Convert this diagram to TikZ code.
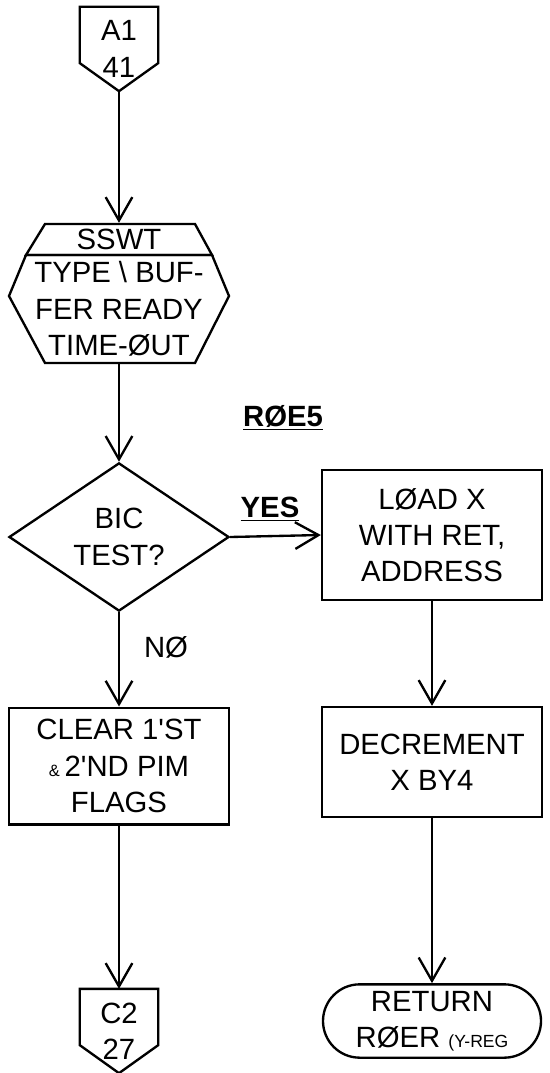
\documentclass[tikz,border=0pt]{standalone}
\usepackage{fontspec}
\usetikzlibrary{calc, positioning, shapes.geometric, shapes.misc, arrows.meta}
\newfontfamily\handfont{Liberation Sans}
\newcommand{\hand}{\handfont\fontsize{25}{31}\selectfont}

\begin{document}
\begin{tikzpicture}[
  x=0.03cm, y=-0.03cm,
  line width=2pt,
  flow/.style={draw, -{Straight Barb[length=7mm, width=8mm]}},
  lbl/.style={font=\hand, inner sep=1pt},
  proc/.style={draw, minimum width=6.6cm, align=center, font=\hand, inner sep=2pt},
  conn/.style={minimum width=2.28cm, minimum height=2.46cm, align=center,
               font=\hand, inner sep=0pt},
  decide/.style={draw, diamond, minimum width=6.6cm, minimum height=3.96cm,
                 align=center, font=\hand, inner sep=0pt},
  term/.style={draw, rounded rectangle, minimum width=6.54cm, minimum height=2.2cm,
               align=center, font=\hand, inner sep=0pt},
]
\useasboundingbox (0,0) rectangle (549,1073);

% left column
\node[conn] (a1) at (119,49) {A1\\41};
\draw (a1.north west) -- (a1.north east) -- ($(a1.south east)+(0,-28)$)
      -- (a1.south) -- ($(a1.south west)+(0,-28)$) -- cycle;

\node[lbl, minimum height=0.93cm] (sswthd) at (119,239.5) {SSWT};
\node[lbl, align=center, minimum height=3.24cm] (sswt) at (119,309) {TYPE \textbackslash\ BUF-\\FER READY\\TIME-ØUT};
\draw (45,224) -- (195,224) -- (212,255) -- (26,255) -- cycle;
\draw (26,255) -- (212,255) -- (229,296) -- (195,363) -- (45,363) -- (9,296) -- cycle;

\node[decide] (test) at (119,537) {BIC\\TEST?};
\node[proc, minimum height=3.5cm] (clear) at (119,766) {CLEAR 1'ST\\{\fontsize{14}{14}\selectfont\&}\,2'ND PIM\\FLAGS};

\node[conn] (c2) at (119,1031) {C2\\27};
\draw (c2.north west) -- (c2.north east) -- ($(c2.south east)+(0,-28)$)
      -- (c2.south) -- ($(c2.south west)+(0,-28)$) -- cycle;

% right column
\node[lbl, font=\hand\bfseries] (roe5) at (283,418) {\underline{RØE5}};
\node[proc, minimum height=3.9cm] (load) at (432,535) {LØAD X\\WITH RET,\\ADDRESS};
\node[proc, minimum height=3.3cm] (dec) at (432,762) {DECREMENT\\X BY4};
\node[term] (ret) at (432,1021) {RETURN\\RØER {\fontsize{15}{15}\selectfont(Y-REG}};

% connectors
\draw[flow] (a1.south) -- (sswthd.north);
\draw[flow] (sswt.south) -- (test.north);
\draw[flow] (test.east) -- (load.west);
\draw[flow] (test.south) -- (clear.north);
\draw[flow] (clear.south) -- (c2.north);
\draw[flow] (load.south) -- (dec.north);
\draw[flow] (dec.south) -- (ret.north);

\node[lbl, font=\hand\bfseries] (yes) at (270,509) {\underline{YES}};
\node[lbl] (no) at (166,647) {NØ};
\end{tikzpicture}
\end{document}
